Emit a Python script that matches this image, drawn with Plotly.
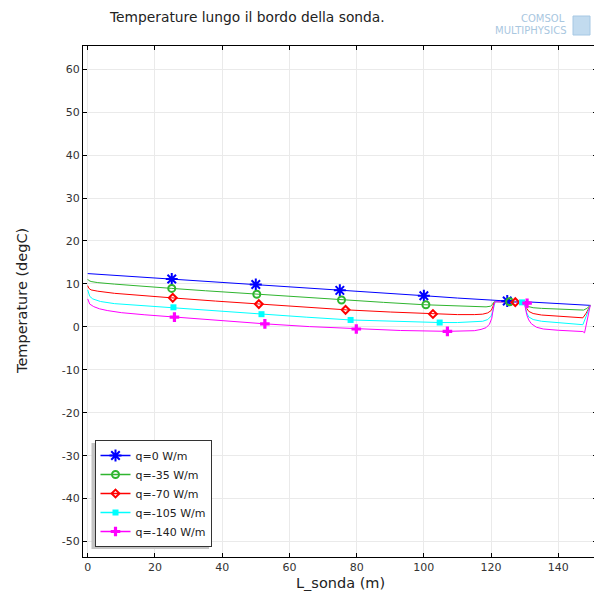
import plotly.graph_objects as go

# ---------------- data ----------------
title_text = "Temperature lungo il bordo della sonda."
x_label = "L_sonda (m)"
y_label = "Temperature (degC)"

x_ticks = [0, 20, 40, 60, 80, 100, 120, 140]
y_ticks = [60, 50, 40, 30, 20, 10, 0, -10, -20, -30, -40, -50]
y_tick_text = ["60", "50", "40", "30", "20", "10", "0", "-10", "-20", "-30", "-40", "-50"]

series_names = ["q=0 W/m", "q=-35 W/m", "q=-70 W/m", "q=-105 W/m", "q=-140 W/m"]

L_q0 = [0, 10, 25, 40, 50, 60, 75, 90, 100, 110, 120, 125, 130, 140, 149.5]
T_q0 = [12.4, 11.9, 11.15, 10.4, 9.85, 9.3, 8.5, 7.75, 7.25, 6.7, 6.15, 6.0, 5.85, 5.45, 5.0]

L_q35 = [0, 0.3, 1, 3, 8, 15, 25, 35, 50, 62, 75, 88, 100, 110, 116, 118.5, 119.8, 120.4,
         120.7, 121.2, 125, 129.8, 130.2, 130.6, 131.2, 132.5, 135, 140, 145, 147.5, 148.5, 149.5]
T_q35 = [11.1, 10.8, 10.55, 10.3, 9.95, 9.5, 8.95, 8.4, 7.6, 7.0, 6.3, 5.7, 5.15, 4.8, 4.65, 4.65, 4.8, 5.2,
         5.7, 5.9, 5.85, 5.7, 5.4, 5.0, 4.7, 4.45, 4.3, 4.1, 3.95, 3.9, 4.3, 5.0]

L_q70 = [0, 0.3, 1, 3, 8, 15, 25, 38, 51, 64, 77, 90, 102.7, 110, 115, 117.5, 119, 120, 120.5,
         120.8, 121.2, 125, 129.8, 130.2, 130.6, 131.2, 132.5, 135, 140, 145, 147.3, 148.3, 149.5]
T_q70 = [9.6, 9.0, 8.6, 8.3, 7.8, 7.3, 6.75, 6.0, 5.3, 4.6, 3.95, 3.45, 3.0, 2.85, 2.85, 2.95, 3.25, 3.8, 4.6,
         5.5, 5.85, 5.8, 5.7, 5.2, 4.3, 3.6, 3.1, 2.75, 2.45, 2.25, 2.1, 3.2, 5.0]

L_q105 = [0, 0.2, 0.6, 1.5, 3.8, 8, 15, 25, 38, 51.7, 65, 78.2, 91, 104.7, 110, 115, 117.5, 119, 120,
          120.5, 120.8, 121.2, 125, 129.8, 130.2, 130.6, 131.2, 132.5, 135, 140, 145, 147.3, 148.3, 149.5]
T_q105 = [8.6, 7.8, 7.1, 6.5, 5.9, 5.4, 5.0, 4.55, 3.7, 2.95, 2.25, 1.6, 1.25, 1.0, 1.0, 1.1, 1.3, 1.7, 2.5,
          3.6, 5.0, 5.85, 5.8, 5.7, 4.6, 3.3, 2.3, 1.7, 1.3, 1.0, 0.7, 0.5, 2.5, 5.0]

L_q140 = [0, 0.2, 0.6, 1.8, 3.5, 5.8, 10, 17, 25.8, 39, 52.7, 66, 79.9, 93, 107, 112, 115, 117, 118.5,
          119.5, 120.2, 120.5, 120.8, 121.2, 125, 129.8, 130.2, 130.6, 131.2, 132, 133.5, 135.5, 140, 145,
          147.3, 147.8, 148.5, 149.5]
T_q140 = [6.5, 5.9, 5.3, 4.7, 4.2, 3.8, 3.3, 2.8, 2.25, 1.45, 0.7, 0.05, -0.5, -0.85, -1.05, -1.0, -0.9, -0.6, -0.2,
          0.6, 2.0, 3.5, 5.0, 5.85, 5.8, 5.7, 4.4, 2.8, 1.6, 0.7, -0.1, -0.5, -0.8, -0.95,
          -1.1, -1.4, 1.0, 5.0]

# marker positions along each curve
mL_q0 = [25, 50, 75, 100, 124.8]
mT_q0 = [11.15, 9.85, 8.5, 7.25, 6.0]
mL_q35 = [25, 50.3, 75.5, 100.6, 125.5]
mT_q35 = [8.95, 7.6, 6.25, 5.15, 5.85]
mL_q70 = [25.3, 50.9, 76.7, 102.7, 127.2]
mT_q70 = [6.75, 5.3, 3.95, 3.0, 5.75]
mL_q105 = [25.5, 51.7, 78.2, 104.7, 129.2]
mT_q105 = [4.55, 2.95, 1.6, 1.0, 5.7]
mL_q140 = [25.8, 52.7, 79.9, 107, 130.7]
mT_q140 = [2.25, 0.7, -0.5, -1.05, 5.5]

logo_top = "COMSOL"
logo_bottom = "MULTIPHYSICS"

# ---------------- styling ----------------
FONT = "DejaVu Sans"
colors = ["#0000ff", "#2fb52f", "#ff0000", "#00ffff", "#ff00ff"]
symbols = ["asterisk-open", "circle-open", "diamond-open", "square", "cross"]
msizes = [10, 7, 6, 6, 8]

curves = [(L_q0, T_q0), (L_q35, T_q35), (L_q70, T_q70), (L_q105, T_q105), (L_q140, T_q140)]
marks = [(mL_q0, mT_q0), (mL_q35, mT_q35), (mL_q70, mT_q70), (mL_q105, mT_q105), (mL_q140, mT_q140)]

OFF = 8  # page body margin offset
W, H = 602 - OFF, 594 - OFF
ml, mr, mt, mb = 83 - OFF, 5, 46 - OFF, 37
pw, ph = W - ml - mr, H - mt - mb


def px2paper(xp, yp):
    """page pixel coords -> paper coords"""
    return (xp - OFF - ml) / pw, (H - mb - (yp - OFF)) / ph


fig = go.Figure()

for i in range(5):
    c = colors[i]
    fig.add_trace(go.Scatter(x=curves[i][0], y=curves[i][1], mode="lines",
                             line=dict(color=c, width=1), showlegend=False,
                             legendgroup=str(i), hoverinfo="skip"))
for i in range(5):
    c = colors[i]
    open_sym = symbols[i].endswith("open")
    fig.add_trace(go.Scatter(x=marks[i][0], y=marks[i][1], mode="markers",
                             marker=dict(symbol=symbols[i], size=msizes[i], color=c,
                                         line=dict(color=c, width=2 if open_sym else 0)),
                             showlegend=False, legendgroup=str(i)))
for i in range(5):
    c = colors[i]
    open_sym = symbols[i].endswith("open")
    fig.add_trace(go.Scatter(x=[None], y=[None], mode="lines+markers", name=series_names[i],
                             line=dict(color=c, width=1.5),
                             marker=dict(symbol=symbols[i], size=msizes[i], color=c,
                                         line=dict(color=c, width=2 if open_sym else 0)),
                             legendgroup=str(i)))

axis_common = dict(showline=True, linecolor="black", linewidth=1, mirror="ticks",
                   ticks="inside", ticklen=4, tickcolor="black", tickwidth=1,
                   showgrid=True, gridcolor="#eaeaea", gridwidth=1, zeroline=False,
                   automargin=False,
                   tickfont=dict(family=FONT, size=11, color="#333333"))

fig.update_xaxes(range=[-1.4, 151.5], tickvals=x_ticks, **axis_common)
fig.update_yaxes(range=[-53.6, 65.4], tickvals=y_ticks, ticktext=y_tick_text, **axis_common)

# legend shadow
sx0, sy0 = px2paper(91.5, 443)
sx1, sy1 = px2paper(209, 549)
lx, ly = px2paper(94.5, 440)

shapes = [dict(type="rect", xref="paper", yref="paper", x0=sx0, x1=sx1, y0=sy1, y1=sy0,
               fillcolor="#c4c4c4", line=dict(width=0), layer="above")]

# logo cube
cx0, cy0 = px2paper(573, 16)
cx1, cy1 = px2paper(590, 35)
shapes.append(dict(type="rect", xref="paper", yref="paper", x0=cx0, x1=cx1, y0=cy1, y1=cy0,
                   fillcolor="#c2dbef", line=dict(color="#a6c8e4", width=1)))

ax1, ay1 = px2paper(567, 19)
ax2, ay2 = px2paper(568, 30)
xlx, xly = px2paper(340, 583)
ylx, yly = px2paper(22, 301)

fig.update_layout(
    width=W, height=H,
    margin=dict(l=ml, r=mr, t=mt, b=mb),
    paper_bgcolor="white", plot_bgcolor="white",
    font=dict(family=FONT, size=12, color="#222222"),
    title=dict(text=title_text, x=(110 - OFF) / W, xanchor="left", xref="container",
               y=1 - (17 - OFF) / H, yanchor="middle", yref="container",
               font=dict(family=FONT, size=13.8, color="#222222")),
    legend=dict(x=lx, y=ly, xanchor="left", yanchor="top", bgcolor="white",
                bordercolor="#333333", borderwidth=1,
                font=dict(family=FONT, size=11, color="#222222"),
                tracegroupgap=0, itemwidth=30),
    shapes=shapes,
    annotations=[
        dict(text=logo_top, xref="paper", yref="paper", x=ax1, y=ay1, xanchor="right",
             yanchor="middle", showarrow=False, font=dict(family=FONT, size=10, color="#a9c7df")),
        dict(text=logo_bottom, xref="paper", yref="paper", x=ax2, y=ay2, xanchor="right",
             yanchor="middle", showarrow=False, font=dict(family=FONT, size=10, color="#a9c7df")),
        dict(text=x_label, xref="paper", yref="paper", x=xlx, y=xly, xanchor="center",
             yanchor="middle", showarrow=False, font=dict(family=FONT, size=14.5, color="#222222")),
        dict(text=y_label, xref="paper", yref="paper", x=ylx, y=yly, xanchor="center",
             yanchor="middle", textangle=-90, showarrow=False,
             font=dict(family=FONT, size=14.5, color="#222222")),
    ],
    showlegend=True,
)

fig.write_html("out.html")
